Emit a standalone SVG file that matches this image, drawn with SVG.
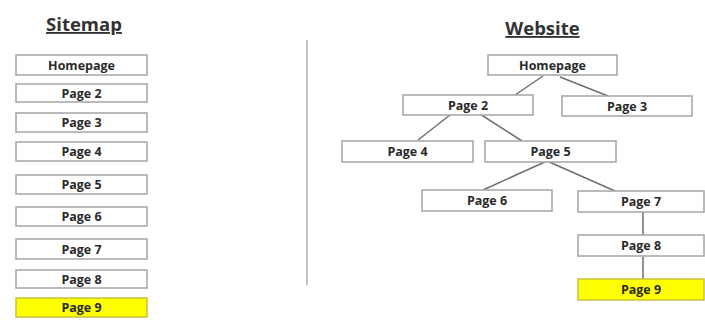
<svg xmlns="http://www.w3.org/2000/svg" width="705" height="327" viewBox="0 0 705 327">
<style>
.bg{fill:#ffffff}
.box rect{fill:#ffffff;stroke:#a4a4a4;stroke-width:1.5}
.box.hl rect{fill:#ffff00;stroke:#c9c23a}
.box text{font-family:"Open Sans","Liberation Sans",sans-serif;font-weight:bold;font-size:12.5px;fill:#2a2a2a;text-anchor:middle}
.title{font-family:"Open Sans","Liberation Sans",sans-serif;font-weight:bold;font-size:18.5px;fill:#333;text-anchor:middle;text-decoration:underline}
.conn line{stroke:#6e6e6e;stroke-width:1.5}
.divider{stroke:#b0b0b0;stroke-width:1.5}
</style>
<rect class="bg" x="0" y="0" width="705" height="327"/>
<text class="title" x="84" y="31">Sitemap</text>
<text class="title" x="542.5" y="35">Website</text>
<line class="divider" x1="307" y1="40" x2="307" y2="285"/>

<g id="sm-homepage" class="box"><rect x="16" y="55" width="131" height="20"/><text x="81.5" y="69.5">Homepage</text></g>
<g id="sm-page2" class="box"><rect x="16" y="84" width="131" height="18"/><text x="81.5" y="97.5">Page 2</text></g>
<g id="sm-page3" class="box"><rect x="16" y="113" width="131" height="19"/><text x="81.5" y="127">Page 3</text></g>
<g id="sm-page4" class="box"><rect x="16" y="142" width="131" height="19"/><text x="81.5" y="156">Page 4</text></g>
<g id="sm-page5" class="box"><rect x="16" y="175" width="131" height="19"/><text x="81.5" y="189">Page 5</text></g>
<g id="sm-page6" class="box"><rect x="16" y="207" width="131" height="19"/><text x="81.5" y="221">Page 6</text></g>
<g id="sm-page7" class="box"><rect x="16" y="239" width="131" height="20"/><text x="81.5" y="253.5">Page 7</text></g>
<g id="sm-page8" class="box"><rect x="16" y="270" width="131" height="18"/><text x="81.5" y="283.5">Page 8</text></g>
<g id="sm-page9" class="box hl"><rect x="16" y="298" width="131" height="19"/><text x="81.5" y="312">Page 9</text></g>

<g id="connectors" class="conn">
<line x1="543" y1="76" x2="515" y2="95"/>
<line x1="560" y1="77" x2="608" y2="96"/>
<line x1="450" y1="115" x2="418" y2="140"/>
<line x1="480" y1="114" x2="522" y2="141"/>
<line x1="547" y1="161" x2="483" y2="190"/>
<line x1="547" y1="161" x2="615" y2="191"/>
<line x1="643" y1="212" x2="643" y2="235"/>
<line x1="643" y1="257" x2="643" y2="279"/>
</g>

<g id="ws-homepage" class="box"><rect x="488" y="55" width="129" height="20"/><text x="552.5" y="69.5">Homepage</text></g>
<g id="ws-page2" class="box"><rect x="403" y="95" width="130" height="20"/><text x="468" y="109.5">Page 2</text></g>
<g id="ws-page3" class="box"><rect x="562" y="96" width="130" height="20"/><text x="627" y="110.5">Page 3</text></g>
<g id="ws-page4" class="box"><rect x="342" y="141" width="131" height="21"/><text x="407.5" y="156">Page 4</text></g>
<g id="ws-page5" class="box"><rect x="485" y="141" width="131" height="21"/><text x="550.5" y="156">Page 5</text></g>
<g id="ws-page6" class="box"><rect x="422" y="190" width="130" height="21"/><text x="487" y="205">Page 6</text></g>
<g id="ws-page7" class="box"><rect x="578" y="191" width="126" height="21"/><text x="641" y="206">Page 7</text></g>
<g id="ws-page8" class="box"><rect x="578" y="235" width="126" height="21"/><text x="641" y="250">Page 8</text></g>
<g id="ws-page9" class="box hl"><rect x="578" y="279" width="126" height="21"/><text x="641" y="294">Page 9</text></g>
</svg>
